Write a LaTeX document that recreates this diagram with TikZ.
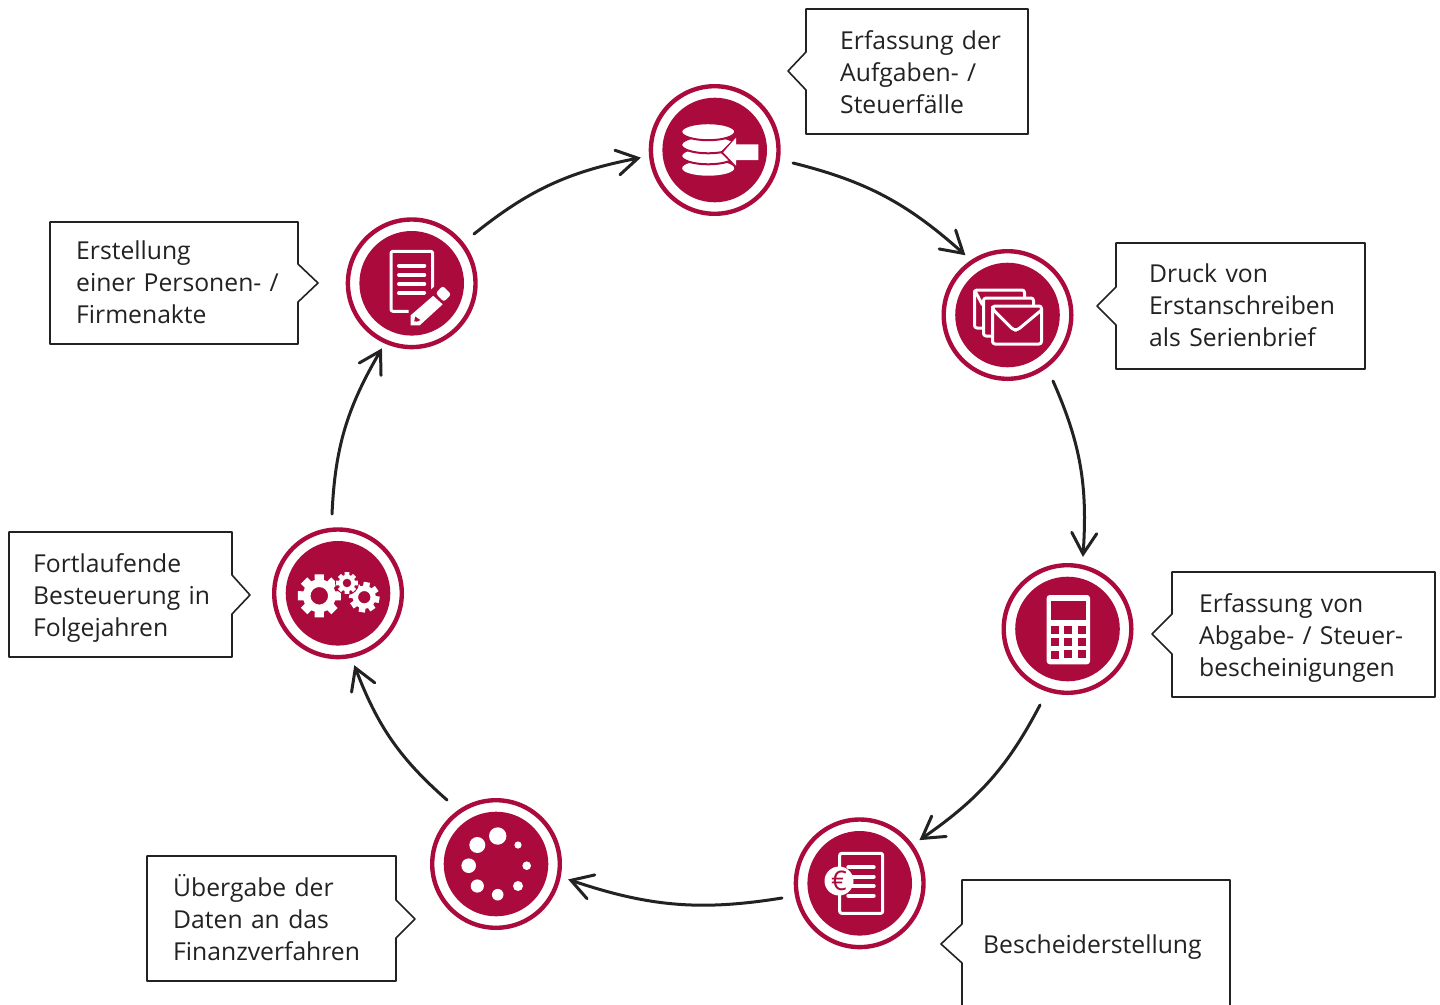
\documentclass[tikz,border=0pt]{standalone}
\usepackage{fontspec}
\setmainfont[WordSpace=1.3]{Open Sans}
\usetikzlibrary{arrows.meta,bending}
\definecolor{wine}{HTML}{AB0A3D}
\definecolor{ink}{HTML}{222222}
\pgfdeclarearrow{
  name=OpenVee,
  parameters={\the\pgfarrowlength,\the\pgfarrowwidth},
  defaults={length=21pt,width=25pt},
  setup code={
    \pgfarrowssettipend{1pt}
    \pgfarrowssetlineend{-1pt}
    \pgfarrowssetvisualbackend{-\pgfarrowlength}
    \pgfarrowssetbackend{-\pgfarrowlength}
    \pgfarrowssavethe\pgfarrowlength
    \pgfarrowssavethe\pgfarrowwidth
  },
  drawing code={
    \pgfsetdash{}{+0pt}
    \pgfsetmiterjoin
    \pgfpathmoveto{\pgfqpoint{-\pgfarrowlength}{.5\pgfarrowwidth}}
    \pgfpathlineto{\pgfqpoint{0pt}{0pt}}
    \pgfpathlineto{\pgfqpoint{-\pgfarrowlength}{-.5\pgfarrowwidth}}
    \pgfusepathqstroke
  }
}
\tikzset{
  ring/.style={circle,draw=wine,line width=4.4pt,fill=white,minimum size=127.6pt,inner sep=0pt,outer sep=2.2pt},
  core/.style={circle,fill=wine,minimum size=104.6pt,inner sep=0pt},
  flow/.style={draw=ink,line width=3pt,line cap=round,-{OpenVee[length=21pt,width=25pt]}},
  callout/.style={draw=ink,line width=1.6pt,line join=round,fill=white},
  label/.style={anchor=north west,inner sep=0pt,align=left,text=ink,font=\fontsize{24.7}{32}\selectfont},
  iconline/.style={draw=white,line width=3pt,line join=round},
  iconbar/.style={draw=white,line width=4pt,line cap=round},
  disc/.style={fill=white,draw=wine,line width=2pt}
}
\newcommand{\mygear}[5]{%
  \begin{scope}[shift={(#1,#2)}]
    \fill[white,even odd rule]
      (#5+34:#3)
      \foreach \k in {1,...,8}{
        -- (\k*45-12+#5:#3)
        -- (\k*45+12+#5:#3) -- (\k*45+16+#5:#4) -- (\k*45+29+#5:#4)
      } -- cycle
      (0,0) circle[radius=#3*0.40];
  \end{scope}}
\begin{document}
\begin{tikzpicture}[x=1pt,y=-1pt]
\useasboundingbox (0,0) rectangle (1440,1004);
\fill[white] (0,0) rectangle (1440,1004);

% circles
\foreach \n/\cx/\cy in {a/714.7/150,b/1007.5/315,c/1067.5/629,d/859.7/883.3,e/496/864,f/338/593.3,g/411.7/283.3}{
  \node[ring] (\n) at (\cx,\cy) {};
  \node[core] (\n core) at (\cx,\cy) {};
}

% connector end points
\coordinate (a1) at (793,163); \coordinate (b0) at (964,254);
\coordinate (b1) at (1053,381); \coordinate (c0) at (1083,555);
\coordinate (c1) at (1040,705); \coordinate (d0) at (921,839);
\coordinate (d1) at (782,898); \coordinate (e0) at (570,880);
\coordinate (e1) at (447,800); \coordinate (f0) at (355,667);
\coordinate (f1) at (332,514); \coordinate (g0) at (381,350);
\coordinate (g1) at (474,234); \coordinate (a0) at (639,158);
\draw[flow] (a1) to[bend left=14] (b0);
\draw[flow] (b1) to[bend left=14] (c0);
\draw[flow] (c1) to[bend left=14] (d0);
\draw[flow] (d1) to[bend left=14] (e0);
\draw[flow] (e1) to[bend left=14] (f0);
\draw[flow] (f1) to[bend left=14] (g0);
\draw[flow] (g1) to[bend left=14] (a0);

% callouts
\draw[callout] (806,9) -- (1028,9) -- (1028,134) -- (806,134) -- (806,90) -- (788,71) -- (806,52) -- cycle;
\node[label] (t1) at (840,30) {Erfassung der\\Aufgaben- /\\Steuerfälle};
\draw[callout] (1116,243) -- (1365,243) -- (1365,369) -- (1116,369) -- (1116,325) -- (1097,306) -- (1116,287) -- cycle;
\node[label] (t2) at (1149,264) {Druck von\\Erstanschreiben\\als Serienbrief};
\draw[callout] (1172,572) -- (1435,572) -- (1435,697) -- (1172,697) -- (1172,654) -- (1152,634) -- (1172,614) -- cycle;
\node[label] (t3) at (1199,593) {Erfassung von\\Abgabe- / Steuer-\\bescheinigungen};
\draw[callout] (962,1010) -- (962,963) -- (941,944) -- (962,924) -- (962,880) -- (1230,880) -- (1230,1010);
\node[label] (t4) at (983,935) {Bescheiderstellung};
\draw[callout] (147,856) -- (396,856) -- (396,900) -- (415,919) -- (396,938) -- (396,981) -- (147,981) -- cycle;
\node[label] (t5) at (173,874) {Übergabe der\\Daten an das\\Finanzverfahren};
\draw[callout] (9,532) -- (232,532) -- (232,575) -- (250,595) -- (232,614) -- (232,657) -- (9,657) -- cycle;
\node[label] (t6) at (33,553) {Fortlaufende\\Besteuerung in\\Folgejahren};
\draw[callout] (50,222) -- (298,222) -- (298,264) -- (318,283) -- (298,302) -- (298,344) -- (50,344) -- cycle;
\node[label] (t7) at (76,241) {Erstellung\\einer Personen- /\\Firmenakte};

% icon a: database with arrow
\begin{scope}[shift={(714.7,150)}]
  \fill[white] (-6.5,18.2) ellipse[x radius=26,y radius=7.5];
  \path[disc] (-6.5,5.8) ellipse[x radius=27,y radius=8.5];
  \path[disc] (-6.5,-5.2) ellipse[x radius=27,y radius=8.5];
  \path[disc] (-6.5,-18.3) ellipse[x radius=27,y radius=8.5];
  \fill[wine] (24,-16) -- (5.5,2.3) -- (24,20) -- cycle;
  \fill[white] (43.6,-5.7) -- (21.3,-5.7) -- (21.3,-12.3) -- (8.6,2.3) -- (21.3,15.7) -- (21.3,10) -- (43.6,10) -- cycle;
\end{scope}

% icon b: envelopes
\begin{scope}[shift={(1007.5,315)}]
  \draw[iconline,fill=wine,rounded corners=2.5pt] (-33,-25) rectangle (17,13);
  \draw[iconline] (-33,-25) -- (-25,-10);
  \draw[iconline,fill=wine,rounded corners=2.5pt] (-24,-17) rectangle (26,21);
  \draw[iconline,fill=wine,rounded corners=2.5pt] (-15,-9) rectangle (34,29);
  \draw[iconline,rounded corners=3pt] (-15,-9) -- (-15,-6) -- (6,15) -- (10,15) -- (34,-5);
\end{scope}

% icon c: calculator
\begin{scope}[shift={(1067.5,629)}]
  \fill[white,rounded corners=3pt] (-20.8,-34) rectangle (22.5,35.3);
  \fill[wine] (-16.5,-28) rectangle (18.2,-9);
  \foreach \x in {-16.5,-3.5,10.5}{
    \foreach \y in {-3,9}{\fill[wine] (\x,\y) rectangle ++(8,8);}
  }
  \fill[wine] (-16.5,22) rectangle ++(8,8);
  \fill[wine] (-3.5,21) rectangle ++(8,8);
  \fill[wine] (10.5,21) rectangle ++(8,8);
\end{scope}

% icon d: document with euro
\begin{scope}[shift={(859.7,883.3)}]
  \draw[iconline,rounded corners=2pt] (-20,-30) rectangle (23,30);
  \foreach \y in {-16,-6.6,2.7,12.4}{\draw[iconbar] (-11.4,\y) -- (14,\y);}
  \fill[white] (-20.7,-2.3) circle[radius=14.5];
  \node[inner sep=0pt,text=wine,font=\fontsize{27}{27}\selectfont] (eur) at (-20.7,-2.3) {€};
\end{scope}

% icon e: dots
\begin{scope}[shift={(496,864)}]
  \fill[white] (1.7,-28) circle[radius=8.7];
  \fill[white] (-18.7,-19) circle[radius=8];
  \fill[white] (-27.3,1.7) circle[radius=7.3];
  \fill[white] (-18.7,22) circle[radius=6.6];
  \fill[white] (1.7,30.7) circle[radius=5.8];
  \fill[white] (22,22) circle[radius=5];
  \fill[white] (30.7,1.7) circle[radius=4.3];
  \fill[white] (22,-19) circle[radius=3.6];
\end{scope}

% icon f: gears
\mygear{319.3}{595.8}{22}{16.5}{0}
\mygear{364.3}{597.2}{15.5}{11.5}{10}
\fill[wine] (347,583) circle[radius=12];
\mygear{347}{583}{11}{8.2}{0}

% icon g: page and pencil
\begin{scope}[shift={(411.7,283.3)}]
  \draw[iconline,rounded corners=2pt] (-20.7,-32) rectangle (21,28);
  \foreach \y in {-17.6,-8.3,0.7,10}{\draw[iconbar] (-12.7,\y) -- (12.6,\y);}
  \fill[wine] (-3,26) -- (23,3) -- (45,12) -- (35,25) -- (10,46) -- (-3,46) -- cycle;
  \fill[white,rounded corners=2.5pt] (31,2.5) -- (39.5,11) -- (32,18.5) -- (24,10) -- cycle;
  \fill[white] (21.5,12.5) -- (31,21) -- (8,42) -- (-1,42) -- (-1,32) -- cycle;
  \fill[wine] (3.6,33.3) -- (8.6,36.7) -- (5.3,38.3) -- (2.5,38) -- cycle;
\end{scope}
\end{tikzpicture}
\end{document}
